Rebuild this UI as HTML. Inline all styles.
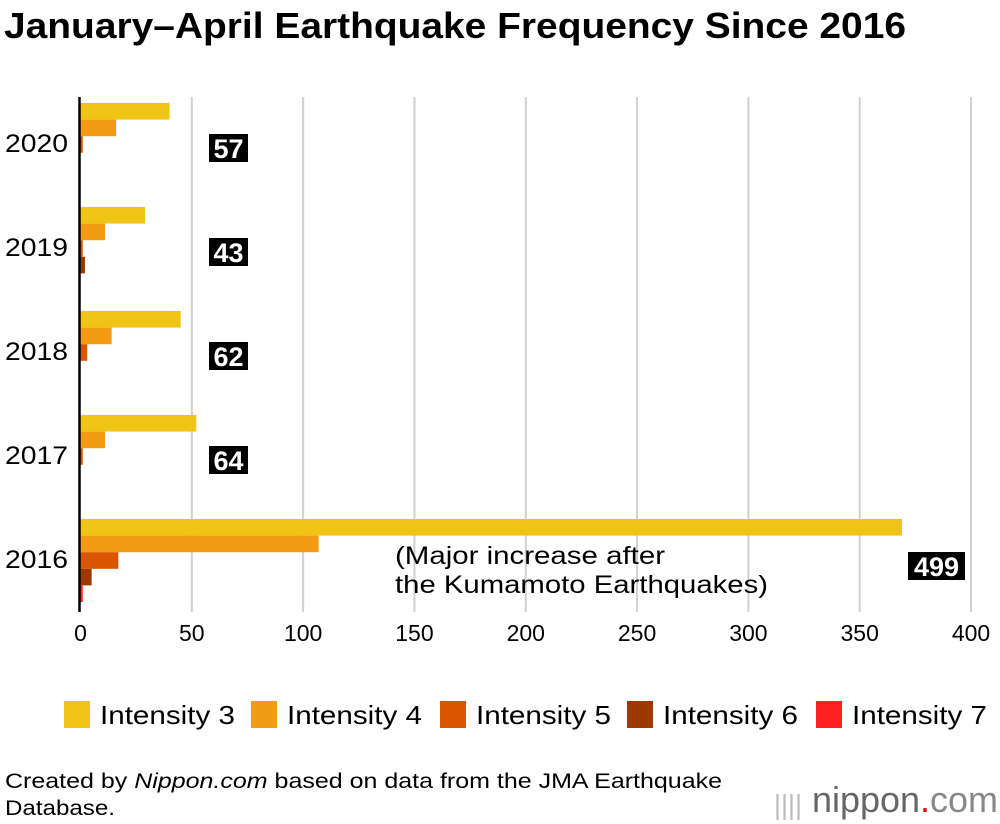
<!DOCTYPE html>
<html><head><meta charset="utf-8">
<style>
body{margin:0;background:#fff;font-family:"Liberation Sans",sans-serif;}
#wrap{position:relative;width:1000px;height:824px;overflow:hidden;background:#fff;}
</style></head><body>
<div id="wrap">
<svg id="chart" width="1000" height="824" style="position:absolute;left:0;top:0" font-family="Liberation Sans, sans-serif">
<text x="4" y="38" font-size="36" font-weight="bold" textLength="902" lengthAdjust="spacingAndGlyphs">January–April Earthquake Frequency Since 2016</text>
<text x="5" y="788" font-size="21" textLength="717" lengthAdjust="spacingAndGlyphs">Created by <tspan font-style="italic">Nippon.com</tspan> based on data from the JMA Earthquake</text>
<text x="5" y="815" font-size="21" textLength="110" lengthAdjust="spacingAndGlyphs">Database.</text>
<g>
<text x="774" y="814" font-size="28" fill="#bbb" textLength="28" lengthAdjust="spacingAndGlyphs">||||</text>
<text x="812" y="812" font-size="36" fill="#666" textLength="186" lengthAdjust="spacingAndGlyphs">nippon<tspan fill="#e60012">.</tspan><tspan fill="#888">com</tspan></text>
</g>
</svg>
</div>
<script>
const years = ["2020","2019","2018","2017","2016"];
const seriesNames = ["Intensity 3","Intensity 4","Intensity 5","Intensity 6","Intensity 7"];
const int3 = [40,29,45,52,369];
const int4 = [16,11,14,11,107];
const int5 = [1,1,3,1,17];
const int6 = [0,2,0,0,5];
const int7 = [0,0,0,0,1];
const totals = [57,43,62,64,499];
const xTicks = [0,50,100,150,200,250,300,350,400];
const colors = ["#f0c414","#f29c14","#d95500","#9a3a00","#ff2020"];
const series=[int3,int4,int5,int6,int7];
const NS="http://www.w3.org/2000/svg";
const svg=document.getElementById('chart');
const x0=80.5,x1=971;
const xs=v=>x0+(x1-x0)*v/400;
const bandTop=i=>103+i*104;
const slot=16.6;
function mk(t,a){const e=document.createElementNS(NS,t);for(const k in a)e.setAttribute(k,a[k]);svg.appendChild(e);return e;}
xTicks.forEach(t=>{
  if(t>0){const g=mk('line',{x1:xs(t),x2:xs(t),y1:97,y2:612,stroke:'#d0d0d0','stroke-width':2});
  
  }
  const l=mk('text',{x:xs(t),y:641,'text-anchor':'middle','font-size':23,fill:'#000'});
  l.textContent=t;
  
  
});
years.forEach((y,i)=>{
  const top=bandTop(i);
  series.forEach((s,j)=>{
    if(s[i]<=0)return;
    const r=mk('rect',{x:x0,y:top+j*slot,width:Math.max(xs(s[i])-x0,1.5),height:slot,fill:colors[j]});
    
    
  });
  const yl=mk('text',{x:5,y:top+49,'font-size':25,fill:'#000',textLength:63,lengthAdjust:'spacingAndGlyphs'});
  yl.textContent=y;
  
  
  const big=totals[i]>100;
  const lx=big?908:209, w=big?57:39, cy=top+(big?47:45);
  const b=mk('rect',{x:lx,y:cy-14,width:w,height:28,fill:'#000'});
  
  
  const t=mk('text',{x:lx+w/2,y:cy+10,'text-anchor':'middle','font-size':27,'font-weight':'bold',fill:'#fff'});
  t.textContent=totals[i];
  
  
});
const ax=mk('line',{x1:x0-1,x2:x0-1,y1:97,y2:612,stroke:'#000','stroke-width':2.5});


const n1=mk('text',{x:395,y:564,'font-size':25,fill:'#000',textLength:270,lengthAdjust:'spacingAndGlyphs'});n1.textContent='(Major increase after';


const n2=mk('text',{x:395,y:593,'font-size':25,fill:'#000',textLength:373,lengthAdjust:'spacingAndGlyphs'});n2.textContent='the Kumamoto Earthquakes)';


const lgx=[64,251,440,627,816];
seriesNames.forEach((n,j)=>{
  const r=mk('rect',{x:lgx[j],y:701,width:26,height:27,fill:colors[j]});
  
  
  const t=mk('text',{x:lgx[j]+36,y:724,'font-size':26,fill:'#000',textLength:135,lengthAdjust:'spacingAndGlyphs'});
  t.textContent=n;
  
  
});
</script>
</body></html>
